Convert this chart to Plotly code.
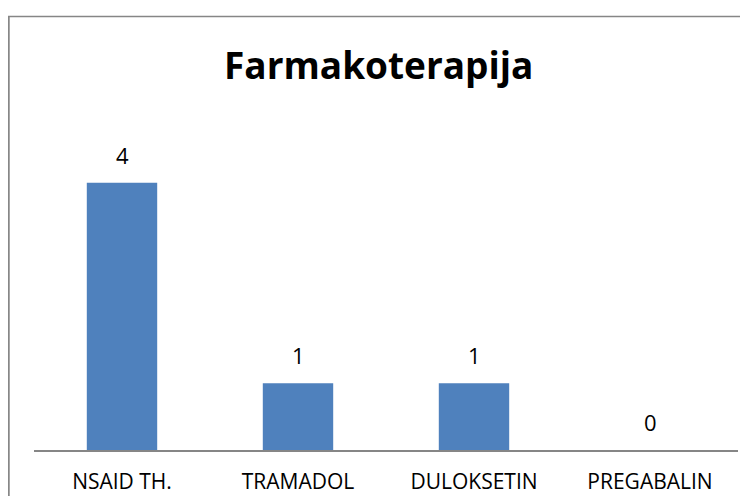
import plotly.graph_objects as go

categories = ["NSAID TH.", "TRAMADOL", "DULOKSETIN", "PREGABALIN"]
values = [4, 1, 1, 0]
title_text = "Farmakoterapija"

FONT = "Open Sans"

fig = go.Figure()
fig.add_trace(go.Bar(
    x=categories, y=values,
    marker=dict(color="#4F81BD", line=dict(width=0)),
    width=0.4,
))

for c, v in zip(categories, values):
    fig.add_annotation(x=c, y=v, xref="x", yref="y", text=str(v), showarrow=False,
                       yanchor="bottom", yshift=11,
                       font=dict(family=FONT, size=22, color="#000000"))

fig.add_annotation(x=0.49, y=1.153, xref="paper", yref="paper", text="<b>" + title_text + "</b>",
                   showarrow=False, yanchor="middle", xanchor="center",
                   font=dict(family=FONT, size=37, color="#000000"))

fig.add_shape(type="rect", xref="paper", yref="paper", x0=-0.0357, x1=1.2, y0=-0.5, y1=1.2979,
              line=dict(color="#868686", width=1.7), fillcolor="rgba(0,0,0,0)", layer="below")

fig.update_layout(
    width=740, height=488,
    margin=dict(l=26, r=10, t=108, b=46, autoexpand=False),
    paper_bgcolor="white", plot_bgcolor="white",
    showlegend=False,
    xaxis=dict(showline=True, linecolor="#868686", linewidth=1.5, ticks="", showgrid=False,
               automargin=False,
               tickfont=dict(family=FONT, size=21, color="#000000"), ticklabelstandoff=12),
    yaxis=dict(range=[0, 5], visible=False, showgrid=False, zeroline=False, automargin=False),
)

fig.write_html("out.html")
